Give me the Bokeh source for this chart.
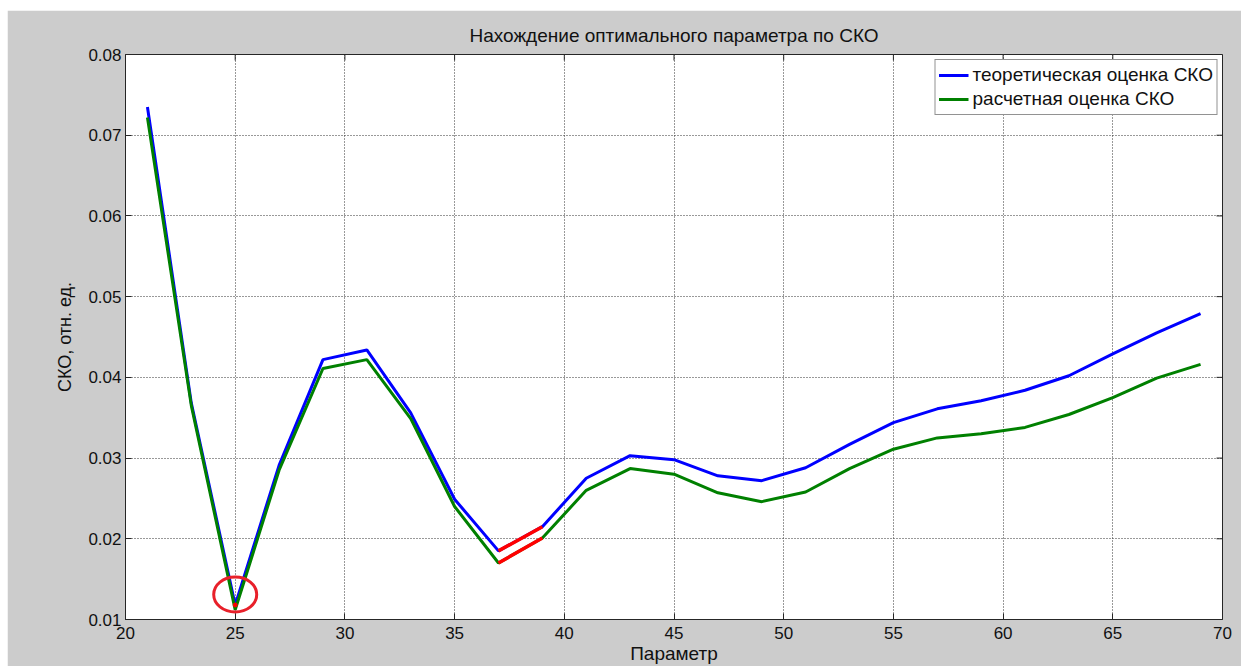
from bokeh.plotting import figure
from bokeh.models import FixedTicker, PrintfTickFormatter, Legend, LegendItem, Range1d
from bokeh.embed import file_html
from bokeh.resources import INLINE

# Parameter values (x) and the two RMSE estimates
param = [21, 23, 25, 27, 29, 31, 33, 35, 37, 39, 41, 43, 45,
         47, 49, 51, 53, 55, 57, 59, 61, 63, 65, 67, 69]
theory_rmse = [0.0735, 0.0368, 0.0118, 0.0291, 0.0422, 0.0434, 0.0356, 0.0249, 0.0185,
               0.0215, 0.0275, 0.0303, 0.0298, 0.0278, 0.0272, 0.0288, 0.0317, 0.0344,
               0.0361, 0.0371, 0.0384, 0.0402, 0.0429, 0.0455, 0.0479]
calc_rmse = [0.0722, 0.0365, 0.0112, 0.0285, 0.0411, 0.0422, 0.0349, 0.0240, 0.0170,
             0.0201, 0.0260, 0.0287, 0.0280, 0.0257, 0.0246, 0.0258, 0.0287, 0.0311,
             0.0325, 0.0330, 0.0338, 0.0354, 0.0375, 0.0399, 0.0416]

x_ticks = [20, 25, 30, 35, 40, 45, 50, 55, 60, 65, 70]
y_ticks = [0.01, 0.02, 0.03, 0.04, 0.05, 0.06, 0.07, 0.08]

# Highlighted interval of the parameter
seg_from, seg_to = 37, 39

FONT = "Liberation Sans"
BG = "#CCCCCC"
INK = "#111111"
FRAME = "#262626"

W, H = 1234, 656
B_LEFT, B_RIGHT, B_TOP, B_BOTTOM = 118, 19, 44, 47
TICK = 6

x0, x1 = x_ticks[0], x_ticks[-1]
y0, y1 = y_ticks[0], y_ticks[-1]

p = figure(width=W, height=H, output_backend="svg", toolbar_location=None,
           x_range=Range1d(x0, x1), y_range=Range1d(y0, y1),
           min_border_left=B_LEFT, min_border_right=B_RIGHT,
           min_border_top=B_TOP, min_border_bottom=B_BOTTOM,
           title="Нахождение оптимального параметра по СКО")
p.margin = (10, 0, 0, 7)
p.border_fill_color = BG
p.background_fill_color = "white"
p.outline_line_color = FRAME
p.outline_line_width = 1

p.title.align = "center"
p.title.text_font = FONT
p.title.text_font_style = "normal"
p.title.text_font_size = "19px"
p.title.text_color = INK
p.title.standoff = 18

for ax in (p.xaxis[0], p.yaxis[0]):
    ax.major_label_text_font = FONT
    ax.major_label_text_font_size = "17px"
    ax.major_label_text_color = INK
    ax.axis_label_text_font = FONT
    ax.axis_label_text_font_style = "normal"
    ax.axis_label_text_color = INK
    ax.major_tick_in = TICK
    ax.major_tick_out = 0
    ax.minor_tick_line_color = None
    ax.axis_line_color = FRAME
    ax.major_tick_line_color = FRAME

p.xaxis.ticker = FixedTicker(ticks=x_ticks)
p.yaxis.ticker = FixedTicker(ticks=y_ticks)
p.yaxis.formatter = PrintfTickFormatter(format="%.2f")
p.xaxis.axis_label = "Параметр"
p.yaxis.axis_label = "СКО, отн. ед."
p.xaxis.axis_label_text_font_size = "19px"
p.yaxis.axis_label_text_font_size = "18px"
p.xaxis.major_label_standoff = 7
p.yaxis.major_label_standoff = 4
p.xaxis.axis_label_standoff = 1
p.yaxis.axis_label_standoff = 10

for g in (p.xgrid[0], p.ygrid[0]):
    g.grid_line_color = "#333333"
    g.grid_line_dash = "1 2"
    g.grid_line_width = 1

# Inward tick marks on the top and right edges of the box
frame_w = W - B_LEFT - B_RIGHT
frame_h = H - B_TOP - B_BOTTOM
dx = TICK * (x1 - x0) / frame_w
dy = TICK * (y1 - y0) / frame_h
p.segment(x0=x_ticks, y0=[y1] * len(x_ticks), x1=x_ticks, y1=[y1 - dy] * len(x_ticks),
          line_color=FRAME, line_width=1)
p.segment(x0=[x1] * len(y_ticks), y0=y_ticks, x1=[x1 - dx] * len(y_ticks), y1=y_ticks,
          line_color=FRAME, line_width=1)

r_theory = p.line(param, theory_rmse, line_color="#0000FF", line_width=3)
r_calc = p.line(param, calc_rmse, line_color="#008000", line_width=3)

# Red highlight on the chosen interval
i0, i1 = param.index(seg_from), param.index(seg_to)
p.line(param[i0:i1 + 1], theory_rmse[i0:i1 + 1], line_color="#FF0000", line_width=3.5)
p.line(param[i0:i1 + 1], calc_rmse[i0:i1 + 1], line_color="#FF0000", line_width=3.5)

# Optimum: minimum of the theoretical estimate, ringed in red
i_min = theory_rmse.index(min(theory_rmse))
p.scatter([param[i_min]], [theory_rmse[i_min]], size=4, color="#FF0000")
p.ellipse([param[i_min]], [theory_rmse[i_min] + 0.0013], width=43, height=35,
          width_units="screen", height_units="screen",
          fill_color=None, line_color="#E8202A", line_width=3)

legend = Legend(items=[LegendItem(label="теоретическая оценка СКО", renderers=[r_theory]),
                       LegendItem(label="расчетная оценка СКО", renderers=[r_calc])],
                location="top_right")
legend.label_text_font = FONT
legend.label_text_font_size = "19px"
legend.label_text_color = INK
legend.border_line_color = FRAME
legend.border_line_width = 1
legend.background_fill_alpha = 1
legend.margin = 5
legend.padding = 3
legend.spacing = 0
legend.label_height = 24
legend.glyph_height = 24
legend.glyph_width = 30
legend.label_standoff = 4
p.add_layout(legend)

open("out.html", "w").write(file_html(p, INLINE))
